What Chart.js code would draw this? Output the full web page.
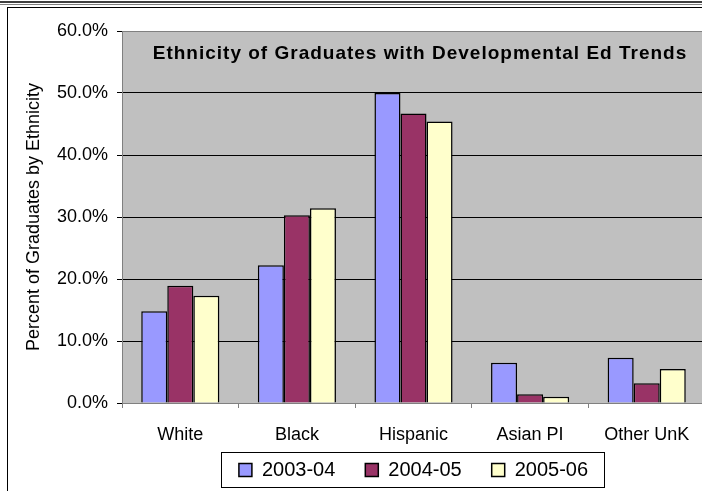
<!DOCTYPE html>
<html>
<head>
<meta charset="utf-8">
<script src="https://cdn.jsdelivr.net/npm/chart.js@4"></script>
<style>
  html, body { margin: 0; padding: 0; background: #fff; overflow: hidden; }
  body { width: 702px; height: 491px; position: relative; }
  .rule1 { position: absolute; left: 0; top: 1px; width: 702px; height: 2px; background: #404040; }
  .rule2 { position: absolute; left: 0; top: 4px; width: 702px; height: 1px; background: #808080; }
  .frame { position: absolute; left: 7px; top: 7px; width: 720px; height: 520px; border: 1.5px solid #000; }
  #wrap { position: absolute; left: 0; top: 0; width: 720px; height: 520px; }
</style>
</head>
<body>
<div class="rule1"></div>
<div class="rule2"></div>
<div class="frame"></div>
<div id="wrap"><canvas id="chart"></canvas></div>
<script>
// values, percent of graduates
const categories = ['White', 'Black', 'Hispanic', 'Asian PI', 'Other UnK'];
const years = ['2003-04', '2004-05', '2005-06'];
const values0304 = [14.8, 22.2, 50.0, 6.5, 7.3];
const values0405 = [18.9, 30.3, 46.7, 1.4, 3.2];
const values0506 = [17.3, 31.4, 45.4, 1.0, 5.5];
const yTicks = [0, 10, 20, 30, 40, 50, 60];

const fontFamily = "'Liberation Sans', Arial, sans-serif";

// grey plot area + border, title drawn inside the plot
const plotBackground = {
    id: 'plotBackground',
    beforeDraw(chart) {
        const a = chart.chartArea;
        const ctx = chart.ctx;
        ctx.save();
        ctx.fillStyle = '#c0c0c0';
        ctx.fillRect(a.left, a.top, a.right - a.left, a.bottom - a.top);
        ctx.restore();
    },
    afterDatasetsDraw(chart) {
        const a = chart.chartArea;
        const ctx = chart.ctx;
        ctx.save();
        ctx.strokeStyle = '#808080';
        ctx.lineWidth = 1;
        ctx.strokeRect(a.left + 0.5, a.top + 0.5, a.right - a.left, a.bottom - a.top);
        ctx.fillStyle = '#000';
        ctx.font = 'bold 19px ' + fontFamily;
        if ('letterSpacing' in ctx) ctx.letterSpacing = '1px';
        ctx.textAlign = 'center';
        ctx.textBaseline = 'alphabetic';
        ctx.fillText('Ethnicity of Graduates with Developmental Ed Trends', 420, 59);
        ctx.restore();
    }
};

// legend sits closer to the axis labels than chart.js would put it,
// and gets a box drawn round it
const legendFrame = {
    id: 'legendFrame',
    afterLayout(chart) {
        const lg = chart.legend;
        lg.top -= 19;
        lg.bottom -= 19;
    },
    afterDraw(chart) {
        const boxes = chart.legend.legendHitBoxes;
        if (!boxes || !boxes.length) return;
        let left = Infinity, right = -Infinity, top = Infinity, bottom = -Infinity;
        boxes.forEach(b => {
            left = Math.min(left, b.left);
            right = Math.max(right, b.left + b.width);
            top = Math.min(top, b.top);
            bottom = Math.max(bottom, b.top + b.height);
        });
        const ctx = chart.ctx;
        ctx.save();
        ctx.strokeStyle = '#000';
        ctx.lineWidth = 1;
        ctx.strokeRect(Math.round(left - 18) + 0.5, Math.round(top - 8) + 0.5,
                       Math.round(right - left + 34), Math.round(bottom - top + 15));
        ctx.restore();
    }
};

function makeDataset(label, data, color) {
    return {
        label: label,
        data: data,
        backgroundColor: color,
        borderColor: '#000',
        borderWidth: 1.5,
        borderSkipped: 'bottom'
    };
}

new Chart(document.getElementById('chart').getContext('2d'), {
    type: 'bar',
    data: {
        labels: categories,
        datasets: [
            makeDataset(years[0], values0304, '#9999ff'),
            makeDataset(years[1], values0405, '#993366'),
            makeDataset(years[2], values0506, '#ffffcc')
        ]
    },
    options: {
        responsive: true,
        maintainAspectRatio: false,
        animation: false,
        layout: { padding: { left: 23, top: 31, right: 15, bottom: 11 } },
        datasets: { bar: { categoryPercentage: 0.67, barPercentage: 1.0 } },
        plugins: {
            legend: {
                position: 'bottom',
                fullSize: false,
                labels: {
                    color: '#000',
                    font: { family: fontFamily, size: 20 },
                    boxWidth: 13,
                    boxHeight: 13,
                    padding: 30
                }
            },
            tooltip: { enabled: false }
        },
        scales: {
            x: {
                grid: { display: true, drawOnChartArea: false, color: '#808080', tickLength: 5, offset: true },
                border: { color: '#808080' },
                ticks: { color: '#000', font: { family: fontFamily, size: 18 }, padding: 16 },
                afterFit(axis) { axis.height = 46; }
            },
            y: {
                min: 0,
                max: 60,
                afterBuildTicks(axis) { axis.ticks = yTicks.map(v => ({ value: v })); },
                grid: { color: '#000', tickLength: 5 },
                border: { color: '#404040' },
                ticks: {
                    color: '#000',
                    font: { family: fontFamily, size: 18 },
                    padding: 9,
                    callback: v => v.toFixed(1) + '%'
                },
                title: {
                    display: true,
                    text: 'Percent of Graduates by Ethnicity',
                    color: '#000',
                    font: { family: fontFamily, size: 18 },
                    padding: 0
                },
                afterFit(axis) { axis.width = 99; }
            }
        }
    },
    plugins: [plotBackground, legendFrame]
});
</script>
</body>
</html>
